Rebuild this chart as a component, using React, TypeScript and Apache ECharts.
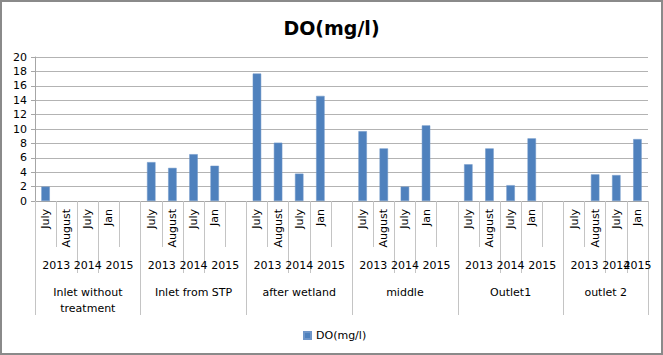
import React, { useEffect, useRef } from "react";
import * as echarts from "echarts";

const groups = ["Inlet without\ntreatment", "Inlet from STP", "after wetland", "middle", "Outlet1", "outlet 2"];
const months = ["July", "August", "July", "Jan"];
const years = ["2013", "2014", "2015"];
const inletWithout = [2.0, null, null, null];
const inletSTP = [5.4, 4.6, 6.5, 4.9];
const afterWetland = [17.7, 8.1, 3.8, 14.6];
const middle = [9.7, 7.3, 2.0, 10.5];
const outlet1 = [5.1, 7.3, 2.2, 8.7];
const outlet2 = [null, 3.7, 3.6, 8.6];
const groupValues = [inletWithout, inletSTP, afterWetland, middle, outlet1, outlet2];
const yTicks = { min: 0, max: 20, interval: 2 };
const seriesName = "DO(mg/l)";

const FONT = "DejaVu Sans";

export default function App() {
  const ref = useRef<HTMLDivElement>(null);
  useEffect(() => {
    if (!ref.current) return;
    const chart = echarts.init(ref.current, undefined, { renderer: "svg" });

    const cats: string[] = [];
    const vals: any[] = [];
    const groupStart: number[] = [];
    groups.forEach((g, gi) => {
      groupStart.push(cats.length);
      months.forEach((m, mi) => {
        cats.push(m);
        const v = groupValues[gi][mi];
        vals.push(v == null ? "-" : v);
      });
      if (gi < groups.length - 1) {
        cats.push("");
        vals.push("-");
      }
    });
    const n = cats.length;
    const yearLabels: string[] = new Array(2 * n + 1).fill("");
    const groupLabels: string[] = new Array(2 * n + 1).fill("");
    groupStart.forEach((s, gi) => {
      const last = gi === groups.length - 1;
      yearLabels[2 * (s + 1)] = years[0];
      yearLabels[2 * (s + 2) + 1] = years[1];
      yearLabels[last ? 2 * (s + 3) + 1 : 2 * (s + 4)] = years[2];
      const len = last ? 4 : 5;
      groupLabels[s * 2 + len] = groups[gi];
    });
    const yearBoundary = new Set<number>();
    const groupBoundary = new Set<number>();
    groupStart.forEach((s) => {
      groupBoundary.add(s);
      yearBoundary.add(s);
      yearBoundary.add(s + 2);
      yearBoundary.add(s + 3);
    });

    const sepColor = "#c4c4c4";
    const textStyle = { fontFamily: FONT, fontSize: 11, color: "#000" };
    const common = { position: "bottom", offset: 0, gridIndex: 0 };

    chart.setOption({
      animation: false,
      backgroundColor: "#fff",
      title: {
        text: "DO(mg/l)",
        left: "center",
        top: 13,
        textStyle: { fontFamily: FONT, fontSize: 19, fontWeight: "bold", color: "#000" },
      },
      legend: {
        bottom: 14,
        left: 303,
        padding: 0,
        icon: "rect",
        itemWidth: 7,
        itemHeight: 7,
        itemGap: 4,
        textStyle: { ...textStyle },
        data: [seriesName],
      },
      grid: { left: 35, right: 15, top: 57, bottom: 154, containLabel: false, outerBoundsMode: "none" },
      graphic: [
        {
          type: "rect",
          shape: { x: 1, y: 1, width: 661, height: 353 },
          style: { fill: "none", stroke: "#8a8a8a", lineWidth: 2 },
          silent: true,
        },
      ],
      xAxis: [
        {
          ...common,
          type: "category",
          data: cats,
          axisLine: { show: true, lineStyle: { color: "#a6a6a6", width: 1 } },
          axisTick: { show: true, length: 46, interval: 0, lineStyle: { color: sepColor } },
          axisLabel: { ...textStyle, rotate: 90, interval: 0, margin: 8 },
        },
        {
          ...common,
          type: "category",
          data: cats,
          axisLine: { show: false },
          axisTick: {
            show: true,
            length: 72,
            interval: (i: number) => yearBoundary.has(i),
            lineStyle: { color: sepColor },
          },
          axisLabel: { show: false },
        },
        {
          ...common,
          type: "category",
          data: cats,
          axisLine: { show: false },
          axisTick: {
            show: true,
            length: 114,
            interval: (i: number) => groupBoundary.has(i),
            lineStyle: { color: sepColor },
          },
          axisLabel: { show: false },
        },
        {
          ...common,
          type: "category",
          data: yearLabels,
          boundaryGap: false,
          axisLine: { show: false },
          axisTick: { show: false },
          axisLabel: { ...textStyle, interval: 0, margin: 59 },
        },
        {
          ...common,
          type: "category",
          data: groupLabels,
          boundaryGap: false,
          axisLine: { show: false },
          axisTick: { show: false },
          axisLabel: { ...textStyle, interval: 0, margin: 83, lineHeight: 16, align: "center" },
        },
      ],
      yAxis: {
        type: "value",
        min: yTicks.min,
        max: yTicks.max,
        interval: yTicks.interval,
        axisLine: { show: true, lineStyle: { color: "#a6a6a6" } },
        axisTick: { show: true, length: 4, lineStyle: { color: "#a6a6a6" } },
        axisLabel: { ...textStyle, margin: 8 },
        splitLine: { show: true, lineStyle: { color: "#b3b3b3", width: 1 } },
      },
      series: [
        {
          name: seriesName,
          type: "bar",
          xAxisIndex: 0,
          data: vals,
          barWidth: "40%",
          itemStyle: { color: "#4f81bd", borderColor: "#6f96c9", borderWidth: 0.5 },
        },
      ],
    });
    return () => chart.dispose();
  }, []);
  return (
    <div
      ref={ref}
      style={{ position: "fixed", left: 0, top: 0, width: 663, height: 355 }}
    />
  );
}
